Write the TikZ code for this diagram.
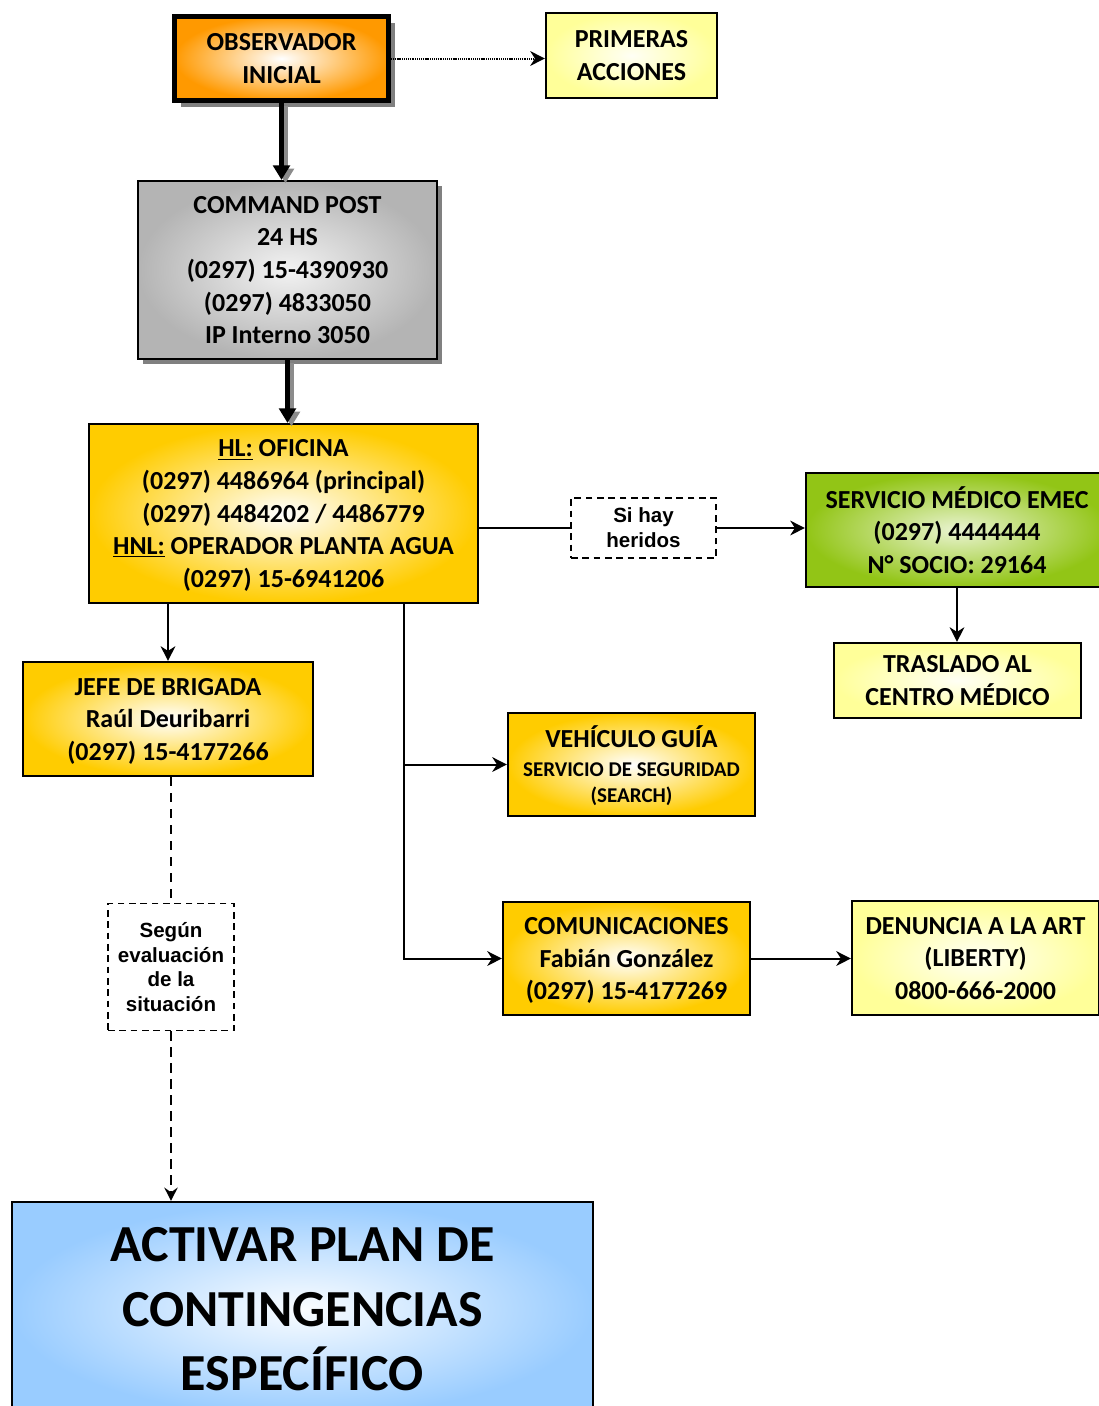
\documentclass[tikz,border=0pt]{standalone}
\usepackage{fontspec}
\setmainfont{Carlito}
\newfontfamily\labelfont{Liberation Sans}
\usetikzlibrary{arrows.meta,shadows,calc}

\definecolor{obsorange}{HTML}{FF9900}
\definecolor{paleyellow}{HTML}{FFFF99}
\definecolor{cpgray}{HTML}{B4B4B4}
\definecolor{gold}{HTML}{FFCC00}
\definecolor{emecgreen}{HTML}{92C516}
\definecolor{planblue}{HTML}{99CCFF}

\begin{document}
\begin{tikzpicture}[x=0.75pt,y=-0.75pt,
  box/.style={draw=black, line width=1.6pt, align=center, inner sep=0pt,
    text depth=0pt, font=\bfseries\fontsize{19.5}{24.4}\selectfont},
  orangebox/.style={box, shade, inner color=white, outer color=obsorange, line width=3.75pt,
    drop shadow={shadow xshift=4.5pt, shadow yshift=-4.5pt, opacity=1, fill=black!50}},
  graybox/.style={box, shade, inner color=white!95!black, outer color=cpgray,
    drop shadow={shadow xshift=4pt, shadow yshift=-4pt, opacity=1, fill=black!50}},
  yellowbox/.style={box, shade, inner color=white!90!paleyellow, outer color=paleyellow},
  goldbox/.style={box, shade, inner color=white, outer color=gold},
  greenbox/.style={box, shade, inner color=white!80!emecgreen, outer color=emecgreen},
  bluebox/.style={box, shade, inner color=white!95!planblue, outer color=planblue,
    font=\bfseries\fontsize{39}{48.4}\selectfont},
  notebox/.style={draw=black, fill=white, line width=1.1pt, dash pattern=on 5pt off 3.5pt,
    align=center, inner sep=0pt, font=\labelfont\bfseries\fontsize{15.4}{18.6}\selectfont},
  conn/.style={draw=black, line width=1.5pt},
  arr/.style={-{Stealth[length=11pt,width=11pt,inset=3.5pt]}},
  bigarrow/.style={line width=3.75pt, -{Triangle[length=11pt,width=12.5pt]}},
  dashline/.style={line width=1.3pt, dash pattern=on 7pt off 5pt},
]
\useasboundingbox (0,0) rectangle (1099,1406);

% boxes
\node[orangebox, minimum width=160.5pt, minimum height=63pt] (obs) at (281.5,58.5)
  {OBSERVADOR\\INICIAL};
\node[yellowbox, minimum width=128.25pt, minimum height=63.75pt] (prim) at (631.5,55.5)
  {PRIMERAS\\ACCIONES};
\node[graybox, minimum width=224.25pt, minimum height=133.5pt] (cmd) at (287.5,270)
  {COMMAND POST\\24 HS\\(0297) 15-4390930\\(0297) 4833050\\IP Interno 3050};
\node[goldbox, minimum width=291.75pt, minimum height=134.25pt] (hl) at (283.5,513.5)
  {\underline{HL:} OFICINA\\(0297) 4486964 (principal)\\(0297) 4484202 / 4486779\\
   \underline{HNL:} OPERADOR PLANTA AGUA\\(0297) 15-6941206};
\node[notebox, minimum width=108.75pt, minimum height=45pt] (sih) at (643.5,528)
  {Si hay\\heridos};
\node[greenbox, minimum width=226.5pt, minimum height=85.5pt] (srv) at (957,530)
  {SERVICIO MÉDICO EMEC\\(0297) 4444444\\N° SOCIO: 29164};
\node[yellowbox, minimum width=185.25pt, minimum height=56.25pt] (tras) at (957.5,680.5)
  {TRASLADO AL\\CENTRO MÉDICO};
\node[goldbox, minimum width=217.5pt, minimum height=85.5pt] (jefe) at (168,719)
  {JEFE DE BRIGADA\\Raúl Deuribarri\\(0297) 15-4177266};
\node[goldbox, minimum width=185.25pt, minimum height=77.25pt] (veh) at (631.5,764.5)
  {VEHÍCULO GUÍA\\[-2.6pt]{\fontsize{15.75}{19.5}\selectfont SERVICIO DE SEGURIDAD}\\[-4.9pt]
   {\fontsize{15.75}{19.5}\selectfont (SEARCH)}};
\node[goldbox, minimum width=185.25pt, minimum height=84.75pt] (com) at (626.5,958.5)
  {COMUNICACIONES\\Fabián González\\(0297) 15-4177269};
\node[yellowbox, minimum width=185.25pt, minimum height=85.5pt] (den) at (975.5,958)
  {DENUNCIA A LA ART\\(LIBERTY)\\0800-666-2000};
\node[notebox, minimum width=94.5pt, minimum height=95.25pt] (seg) at (171,967)
  {Según\\evaluación\\de la\\situación};
\node[bluebox, minimum width=435.75pt, minimum height=160.5pt] (act) at (302.5,1309)
  {ACTIVAR PLAN DE\\CONTINGENCIAS\\ESPECÍFICO};

% branch points on the right-hand feeder line
\coordinate (tap) at (404,604);
\coordinate (vtap) at (tap |- veh.west);

% heavy arrows with their shadows
\begin{scope}[transform canvas={shift={(3pt,-2.5pt)}}]
  \draw[bigarrow, black!45] (obs.south) -- (obs.south |- cmd.north);
  \draw[bigarrow, black!45] (cmd.south) -- (cmd.south |- hl.north);
\end{scope}
\draw[bigarrow] (obs.south) -- (obs.south |- cmd.north);
\draw[bigarrow] (cmd.south) -- (cmd.south |- hl.north);

% connectors
\draw[conn, arr, dash pattern=on 0.8pt off 0.6pt] (obs.east) -- (obs.east -| prim.west);
\draw[conn] (sih.west -| hl.east) -- (sih.west);
\draw[conn, arr] (sih.east) -- (sih.east -| srv.west);
\draw[conn, arr] (srv.south) -- (srv.south |- tras.north);
\draw[conn, arr] (hl.south -| jefe.north) -- (jefe.north);
\draw[conn, arr] (tap) |- (com.west);
\draw[conn, arr] (vtap) -- (veh.west);
\draw[conn, arr] (com.east) -- (com.east -| den.west);
\draw[dashline] (seg.north |- jefe.south) -- (seg.north);
\draw[dashline, -{Stealth[length=10pt,width=10pt,inset=3.5pt]}] (seg.south) -- (seg.south |- act.north);
\end{tikzpicture}
\end{document}
